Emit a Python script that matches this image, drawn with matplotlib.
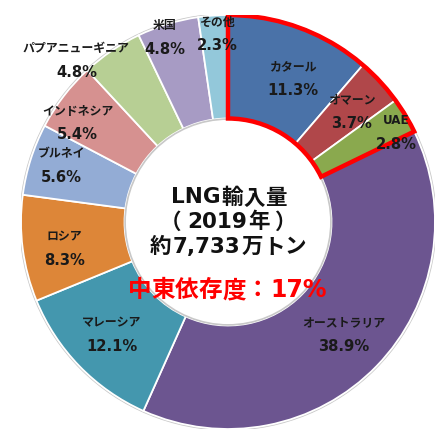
import matplotlib.pyplot as plt
import numpy as np
from matplotlib.patches import Wedge, Circle

plt.rcParams['font.family'] = ['DejaVu Sans', 'Noto Sans CJK JP']

# data
countries = ['カタール', 'オマーン', 'UAE', 'オーストラリア', 'マレーシア', 'ロシア',
             'ブルネイ', 'インドネシア', 'パプアニューギニア', '米国', 'その他']
shares = [11.3, 3.7, 2.8, 38.9, 12.1, 8.3, 5.6, 5.4, 4.8, 4.8, 2.3]
colors = ['#4a72a8', '#b0474a', '#8aa94e', '#6c5590', '#4497ae', '#dd8638',
          '#93acd5', '#d69190', '#b7cf94', '#a79bc4', '#93c8da']
middle_east = 3
center_lines = ['LNG輸入量', '（2019年）', '約7,733万トン']
dependency = '中東依存度：17%'

# label layout: radius and angle shift (deg) per wedge
label_r = [0.76, 0.80, 0.92, 0.78, 0.78, 0.80, 0.85, 0.87, 1.07, 0.94, 0.91]
label_da = [-4, -1, -3, 0, 0, 2, -1, 4, 9, 2, -1]


def mixed_text(ax, y, s, size, color):
    # latin runs in DejaVu; CJK / full-width chars in Noto, one em cell each
    runs = []
    for ch in s:
        if ord(ch) < 128 and runs and runs[-1][1]:
            runs[-1][0] += ch
        else:
            runs.append([ch, ord(ch) < 128])
    r = ax.figure.canvas.get_renderer()
    inv = ax.transData.inverted()
    em = size / 72 * ax.figure.dpi
    em = inv.transform((em, 0))[0] - inv.transform((0, 0))[0]
    pieces = []
    for txt, latin in runs:
        fam = 'DejaVu Sans' if latin else 'Noto Sans CJK JP'
        t = ax.text(0, y, txt, family=fam, fontsize=size, fontweight='bold',
                    color=color, ha='center', va='center', zorder=7)
        if latin:
            bb = t.get_window_extent(r)
            w = inv.transform((bb.x1, 0))[0] - inv.transform((bb.x0, 0))[0]
            w += 0.1 * em
        else:
            w = em
        shift = {'（': -0.22 * em, '）': 0.22 * em}.get(txt, 0)
        pieces.append((t, w, shift))
    x = -sum(p[1] for p in pieces) / 2
    for t, w, shift in pieces:
        t.set_x(x + w / 2 + shift)
        x += w


fig = plt.figure(figsize=(4.37, 4.34), dpi=100)
ax = fig.add_axes([21 / 437, 5 / 434, 414 / 437, 414 / 434])

wedges, _ = ax.pie(shares, colors=colors, startangle=90, counterclock=False,
                   radius=1.0,
                   wedgeprops=dict(width=0.5, edgecolor='white', linewidth=1.3))
ax.set_xlim(-1, 1)
ax.set_ylim(-1, 1)
ax.set_aspect('auto')
ax.axis('off')

# faint grey rims
ax.add_patch(Circle((0, 0), 1.004, fill=False, ec='#c8c8c8', lw=1.2, zorder=0))
ax.add_patch(Circle((0, 0), 0.497, fill=False, ec='#c8c8c8', lw=1.2, zorder=3))

# red frame around Middle East wedges
me_total = sum(shares[:middle_east])
ax.add_patch(Wedge((0, 0), 1.0, 90 - me_total * 3.6, 90, width=0.5,
                   fill=False, ec='#ff0000', lw=3.2, joinstyle='miter', zorder=5))

# wedge labels
start = 90.0
for i, (name, val) in enumerate(zip(countries, shares)):
    mid = start - val * 3.6 / 2 + label_da[i]
    start -= val * 3.6
    x = label_r[i] * np.cos(np.radians(mid))
    y = label_r[i] * np.sin(np.radians(mid))
    ax.text(x, y + 0.058, name, ha='center', va='center', fontsize=8.6,
            fontweight='bold', color='#1a1a1a', zorder=6)
    ax.text(x, y - 0.058, f'{val}%', ha='center', va='center', fontsize=10.6,
            fontweight='bold', color='#1a1a1a', zorder=6)

for k, line in enumerate(center_lines):
    mixed_text(ax, 0.12 - k * 0.12, line, 15.5, '#111111')
mixed_text(ax, -0.33, dependency, 17, '#ff0000')

fig.savefig('out.png', dpi=100)
